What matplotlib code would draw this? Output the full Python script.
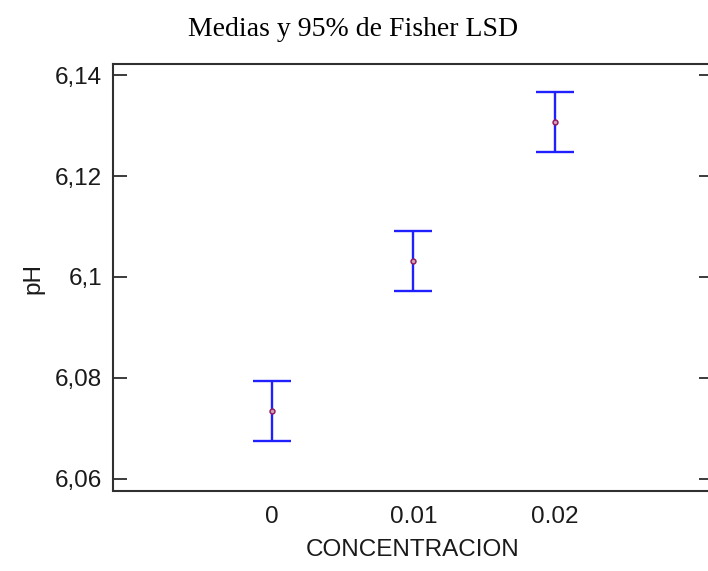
import matplotlib.pyplot as plt

concentraciones = ["0", "0.01", "0.02"]
medias = [6.0735, 6.1032, 6.1307]
lsd_half = [0.0059, 0.0059, 0.0060]
yticks = [6.06, 6.08, 6.10, 6.12, 6.14]
ytick_labels = ["6,06", "6,08", "6,1", "6,12", "6,14"]


def main():
    fig = plt.figure(figsize=(7.08, 5.71), dpi=100)
    ax = fig.add_axes([113 / 708, 1 - 490.5 / 571, 600 / 708, 426.5 / 571])

    x = list(range(len(concentraciones)))
    ax.errorbar(x, medias, yerr=lsd_half, fmt="none", ecolor="#2020ff",
                elinewidth=1.7, capsize=14, capthick=1.7)
    ax.plot(x, medias, "o", ms=3.5, mfc="#d8a0c0", mec="#902060", mew=1.1)

    ax.set_xlim(-1.124, 3.117)
    ax.set_ylim(6.0577, 6.1422)
    ax.set_xticks(x)
    ax.set_xticklabels(concentraciones)
    ax.set_yticks(yticks)
    ax.set_yticklabels(ytick_labels)

    ax.tick_params(axis="y", direction="in", length=10, width=1.2, right=True,
                   labelsize=17.5, pad=8, colors="#1a1a1a")
    ax.tick_params(axis="x", length=0, labelsize=17.5, pad=11, colors="#1a1a1a")
    for lbl in ax.get_xticklabels() + ax.get_yticklabels():
        lbl.set_fontfamily("Liberation Sans")
    for sp in ax.spines.values():
        sp.set_linewidth(1.5)
        sp.set_color("#303030")

    ax.set_xlabel("CONCENTRACION", family="Liberation Sans", fontsize=17.5,
                  color="#1a1a1a", va="center")
    ax.xaxis.set_label_coords((413 - 113) / 600, (490.5 - 550) / 426.5)
    ax.set_ylabel("pH", family="Liberation Sans", fontsize=17.5,
                  color="#1a1a1a", va="center")
    ax.yaxis.set_label_coords((33 - 113) / 600, (490.5 - 278) / 426.5)
    fig.text(353 / 708, 1 - 30 / 571, "Medias y 95% de Fisher LSD",
             family="Liberation Serif", fontsize=20, ha="center", va="center")

    fig.savefig("out.png", dpi=100)


if __name__ == "__main__":
    main()
